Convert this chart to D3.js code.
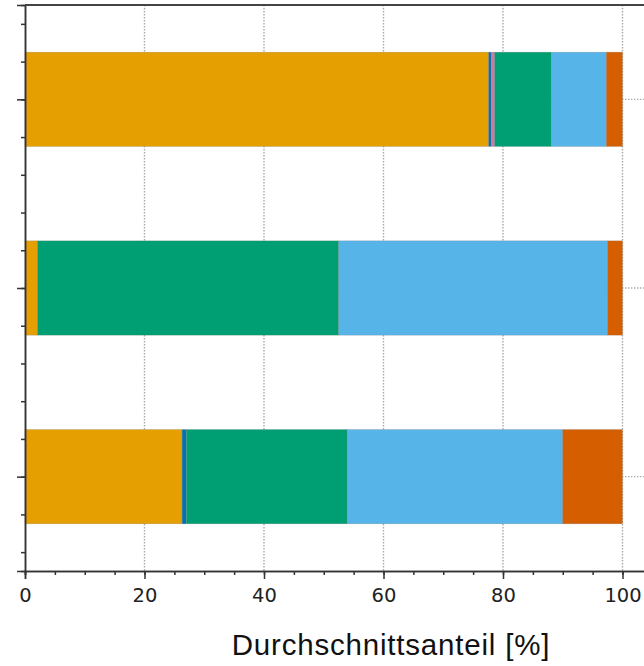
<!DOCTYPE html>
<html>
<head>
<meta charset="utf-8">
<script src="https://cdn.jsdelivr.net/npm/d3@7"></script>
<style>
  html, body { margin: 0; padding: 0; background: #fff; }
  svg { display: block; }
</style>
</head>
<body>
<div id="chart"></div>
<script>
const categories = ["Gruppe A", "Gruppe B", "Gruppe C"];
const seriesNames = ["Orange", "Blau", "Rosa", "Grün", "Hellblau", "Rot"];
const seriesColors = ["#E69F00", "#0072B2", "#CC79A7", "#009E73", "#56B4E9", "#D55E00"];

// shares per category, in order of seriesNames
const orangeVals = [77.6, 2.1, 26.3];
const blueVals = [0.4, 0.0, 0.7];
const pinkVals = [0.6, 0.0, 0.0];
const greenVals = [9.5, 50.4, 26.9];
const skyVals = [9.2, 45.0, 36.1];
const redVals = [2.7, 2.5, 10.0];

const xMajorTicks = [0, 20, 40, 60, 80, 100];

const W = 644, H = 666;
const LEFT = 25, TOP = 5, BOTTOM_Y = 571;

const svg = d3.select("#chart").append("svg")
  .attr("width", W)
  .attr("height", H);

// x continues past 100, the right side of the frame is cut off in the picture
const x = d3.scaleLinear().domain([0, 110]).range([LEFT, LEFT + 110 * 5.975]);
const y = d3.scaleLinear().domain([-0.5, 2.5]).range([TOP, BOTTOM_Y]);
const barH = y(0.25) - y(-0.25);

// build stack table
const table = categories.map((c, i) => ({
  cat: i,
  Orange: orangeVals[i], Blau: blueVals[i], Rosa: pinkVals[i],
  "Grün": greenVals[i], Hellblau: skyVals[i], Rot: redVals[i]
}));
const stacked = d3.stack().keys(seriesNames)(table);

const gridColor = "#a8a8a8";

// vertical grid
svg.append("g").selectAll("line")
  .data(xMajorTicks.filter(d => d > 0))
  .join("line")
    .attr("x1", d => x(d)).attr("x2", d => x(d))
    .attr("y1", TOP).attr("y2", BOTTOM_Y)
    .attr("stroke", gridColor)
    .attr("stroke-width", 1.4)
    .attr("stroke-dasharray", "1.4,1.6");

// horizontal grid at categories
svg.append("g").selectAll("line")
  .data(categories.map((c, i) => i))
  .join("line")
    .attr("x1", LEFT).attr("x2", W)
    .attr("y1", d => y(d)).attr("y2", d => y(d))
    .attr("stroke", gridColor)
    .attr("stroke-width", 1.4)
    .attr("stroke-dasharray", "1.4,1.6");

// bars
svg.append("g").selectAll("g")
  .data(stacked)
  .join("g")
    .attr("fill", (d, i) => seriesColors[i])
  .selectAll("rect")
  .data(d => d.filter(s => s[1] - s[0] > 0))
  .join("rect")
    .attr("x", d => x(d[0]))
    .attr("width", d => x(d[1]) - x(d[0]))
    .attr("y", d => y(d.data.cat) - barH / 2)
    .attr("height", barH)
    .attr("stroke", "rgba(120,120,120,0.45)")
    .attr("stroke-width", 0.5);

function styleAxis(g) {
  g.selectAll(".domain").attr("stroke", "#333").attr("stroke-width", 1.5);
  g.selectAll(".tick line").attr("stroke", "#333").attr("stroke-width", 1.5);
}

// x axis: minor ticks, then major ticks with labels
svg.append("g")
  .attr("transform", `translate(0, ${BOTTOM_Y})`)
  .call(d3.axisBottom(x).tickValues(d3.range(0, 111, 5)).tickSize(4).tickFormat(""))
  .call(styleAxis);

const xAxis = svg.append("g")
  .attr("transform", `translate(0, ${BOTTOM_Y})`)
  .call(d3.axisBottom(x).tickValues(xMajorTicks).tickSize(8).tickPadding(9).tickFormat(d3.format("d")))
  .call(styleAxis);
xAxis.selectAll(".tick text")
  .attr("fill", "#222")
  .attr("font-family", "DejaVu Sans, sans-serif")
  .attr("font-size", 19.5);

// y axis: minor ticks every 0.2, major at categories
svg.append("g")
  .attr("transform", `translate(${LEFT}, 0)`)
  .call(d3.axisLeft(y).tickValues(d3.range(-0.4, 2.5, 0.2)).tickSize(4).tickFormat(""))
  .call(styleAxis);
svg.append("g")
  .attr("transform", `translate(${LEFT}, 0)`)
  .call(d3.axisLeft(y).tickValues(categories.map((c, i) => i)).tickSize(8).tickFormat(""))
  .call(styleAxis);

// top frame
svg.append("line")
  .attr("x1", LEFT).attr("x2", W)
  .attr("y1", TOP).attr("y2", TOP)
  .attr("stroke", "#444")
  .attr("stroke-width", 1.8);

// axis title
svg.append("text")
  .attr("x", 391)
  .attr("y", 655)
  .attr("text-anchor", "middle")
  .attr("font-family", "Liberation Sans, Arial, sans-serif")
  .attr("font-size", 29.5)
  .attr("letter-spacing", 0.8)
  .attr("fill", "#111")
  .text("Durchschnittsanteil [%]");
</script>
</body>
</html>
